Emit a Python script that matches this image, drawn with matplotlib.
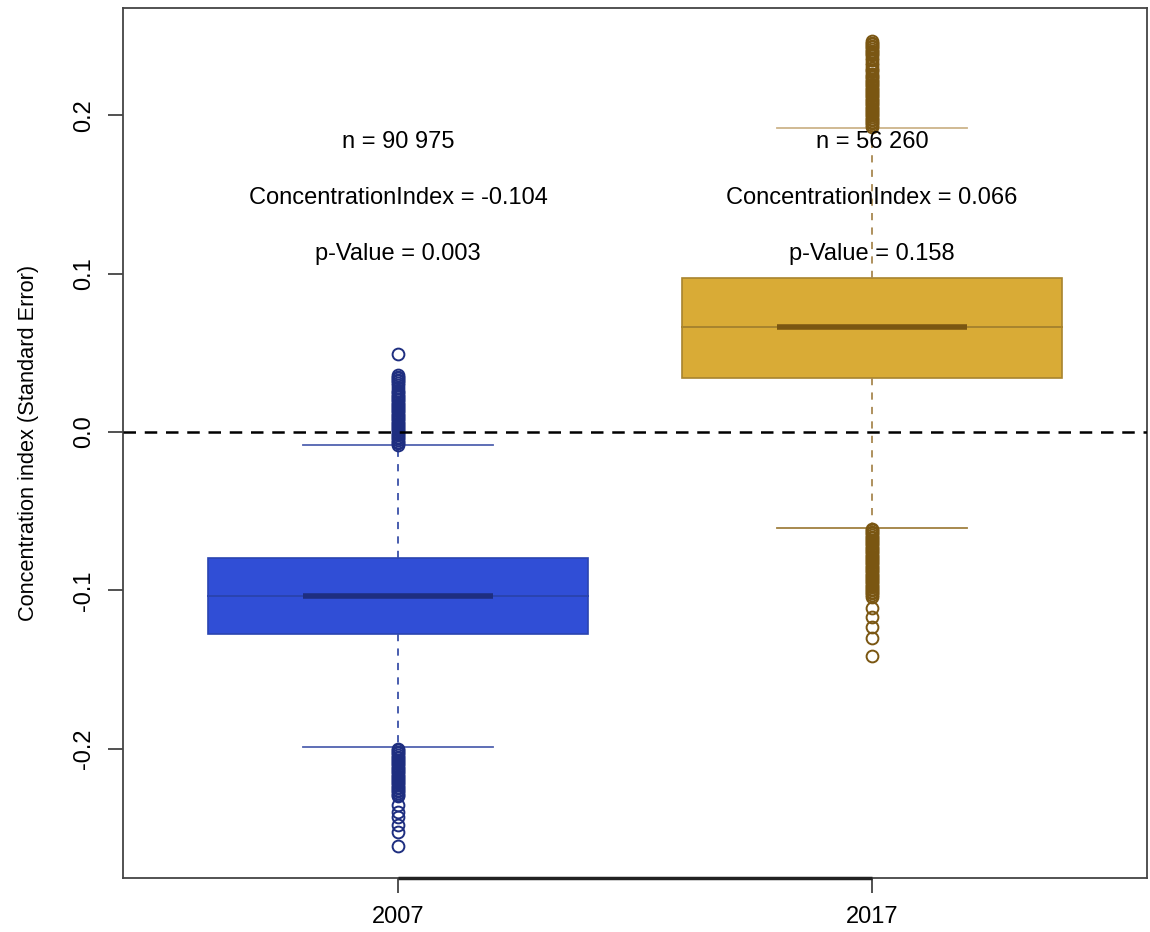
import matplotlib
matplotlib.use("Agg")
import matplotlib.pyplot as plt

plt.rcParams['font.family'] = ['Liberation Sans', 'DejaVu Sans']

# data
years = ["2007", "2017"]
medians = [-0.1035, 0.0663]
q1 = [-0.1276, 0.0341]
q3 = [-0.0796, 0.0973]
whislo = [-0.199, -0.0606]
whishi = [-0.0082, 0.1920]

fliers_2007_high = [-0.008, -0.007, -0.006, -0.005, -0.004, -0.003, -0.002, -0.001,
                    0.000, 0.001, 0.002, 0.003, 0.004, 0.005, 0.006, 0.007, 0.008,
                    0.009, 0.010, 0.011, 0.012, 0.013, 0.014, 0.015, 0.016, 0.017,
                    0.018, 0.019, 0.020, 0.021, 0.022, 0.023, 0.024, 0.025, 0.026,
                    0.028, 0.030, 0.031, 0.032, 0.033, 0.034, 0.035, 0.036, 0.049]
fliers_2007_low = [-0.200, -0.201, -0.202, -0.203, -0.204, -0.205, -0.206, -0.207,
                   -0.208, -0.209, -0.210, -0.211, -0.212, -0.213, -0.214, -0.215,
                   -0.216, -0.217, -0.218, -0.219, -0.220, -0.221, -0.222, -0.223,
                   -0.224, -0.225, -0.226, -0.227, -0.228, -0.229, -0.230,
                   -0.2355, -0.240, -0.243, -0.248, -0.2525, -0.2615]
fliers_2017_high = [0.193, 0.194, 0.195, 0.196, 0.197, 0.198, 0.199, 0.200, 0.201,
                    0.202, 0.203, 0.204, 0.205, 0.206, 0.207, 0.208, 0.209, 0.210,
                    0.211, 0.212, 0.213, 0.214, 0.215, 0.216, 0.217, 0.218, 0.219,
                    0.220, 0.221, 0.222, 0.223, 0.224, 0.225, 0.226, 0.228, 0.229,
                    0.230, 0.232, 0.233, 0.235, 0.236, 0.238, 0.239, 0.240, 0.241,
                    0.242, 0.243, 0.244, 0.245, 0.246, 0.247]
fliers_2017_low = [-0.061, -0.062, -0.063, -0.064, -0.065, -0.066, -0.067, -0.068,
                   -0.069, -0.070, -0.071, -0.072, -0.073, -0.074, -0.075, -0.076,
                   -0.077, -0.078, -0.079, -0.080, -0.081, -0.082, -0.083, -0.084,
                   -0.085, -0.086, -0.087, -0.088, -0.089, -0.090, -0.091, -0.092,
                   -0.093, -0.094, -0.095, -0.096, -0.097, -0.098, -0.099, -0.100,
                   -0.101, -0.102, -0.103, -0.104,
                   -0.111, -0.117, -0.123, -0.130, -0.1415]

n_obs = ["90 975", "56 260"]
conc_index = ["-0.104", "0.066"]
p_values = ["0.003", "0.158"]

fill_colors = ["#304ed6", "#d9ab36"]
edge_colors = ["#2a44b0", "#a8842e"]
dark_colors = ["#1e2e80", "#7a5612"]
whisk_colors = ["#3a50a8", "#a88850"]
cap_colors = [("#5062b0", "#5062b0"), ("#a08040", "#cdb48a")]

fig = plt.figure(figsize=(11.5, 9.32), dpi=100)
ax = fig.add_axes([0.107, 0.058, 0.8904, 0.9336])

fliers = [fliers_2007_high + fliers_2007_low, fliers_2017_high + fliers_2017_low]
for i in range(2):
    stats = [dict(med=medians[i], q1=q1[i], q3=q3[i], whislo=whislo[i],
                  whishi=whishi[i], fliers=fliers[i],
                  cilo=medians[i], cihi=medians[i])]
    res = ax.bxp(stats, positions=[i + 1], widths=0.8, shownotches=True,
                 patch_artist=True,
                 boxprops=dict(facecolor=fill_colors[i], edgecolor=edge_colors[i], linewidth=1.2),
                 medianprops=dict(color=dark_colors[i], linewidth=4, solid_capstyle='butt'),
                 whiskerprops=dict(color=whisk_colors[i], linewidth=1.3, linestyle=(0, (4, 4))),
                 capprops=dict(linewidth=1.3),
                 flierprops=dict(marker='o', markerfacecolor='none',
                                 markeredgecolor=dark_colors[i], markersize=8.5,
                                 markeredgewidth=1.4, linestyle='none'))
    res['caps'][0].set_color(cap_colors[i][0])
    res['caps'][1].set_color(cap_colors[i][1])
    res['medians'][0].set_zorder(3)

    ax.text(i + 1, 0.1832, "n = " + n_obs[i], ha='center', va='center', fontsize=17, zorder=5)
    ax.text(i + 1, 0.1477, "ConcentrationIndex = " + conc_index[i], ha='center', va='center',
            fontsize=17, zorder=5)
    ax.text(i + 1, 0.1124, "p-Value = " + p_values[i], ha='center', va='center',
            fontsize=17, zorder=5)

ax.axhline(0, color='black', linewidth=1.8, linestyle=(0, (5, 3.5)), zorder=6)

ax.set_xlim(0.42, 2.58)
ax.set_ylim(-0.2817, 0.268)
ax.set_xticks([1, 2])
ax.set_xticklabels(years, fontsize=17)
ax.set_yticks([-0.2, -0.1, 0.0, 0.1, 0.2])
ax.set_yticklabels(["-0.2", "-0.1", "0.0", "0.1", "0.2"], fontsize=17,
                   rotation=90, va='center')
ax.tick_params(axis='x', length=11, width=1.2, color='#333333', pad=9)
ax.tick_params(axis='y', length=11, width=1.2, color='#333333', pad=9)
ax.set_ylabel("Concentration index (Standard Error)", fontsize=15.7, labelpad=25)

for s in ax.spines.values():
    s.set_linewidth(1.3)
    s.set_color('#444444')
ax.hlines(-0.2817, 1, 2, color='#222222', linewidth=2.5, clip_on=False, zorder=7)

fig.savefig("out.png", dpi=100)
